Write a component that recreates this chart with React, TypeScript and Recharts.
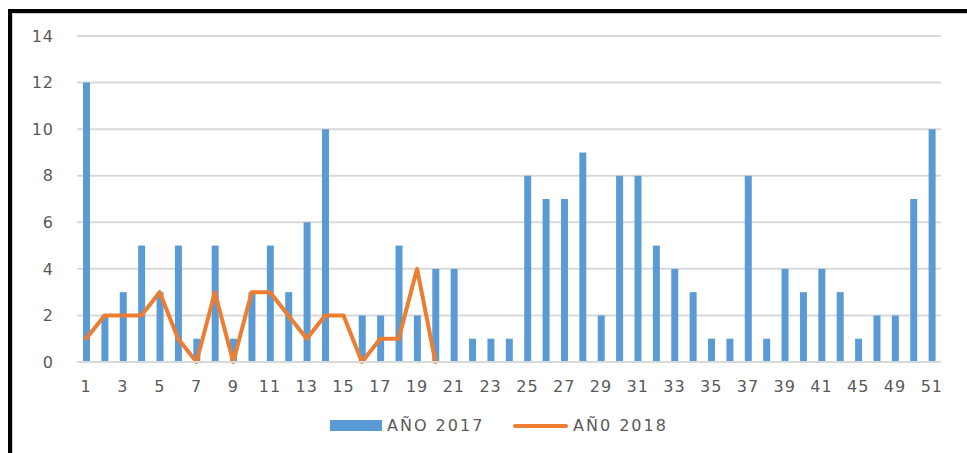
import React from 'react';
import { ComposedChart, Bar, Line, XAxis, YAxis, CartesianGrid, Legend } from 'recharts';

const categories: string[] = [
  '1','2','3','4','5','6','7','8','9','10',
  '11','12','13','14','15','16','17','18','19','20',
  '21','22','23','24','25','26','27','28','29','30',
  '31','32','33','34','35','36','37','38','39','40',
  '41','43','45','47','49','50','51',
];

const values2017: number[] = [
  12, 2, 3, 5, 3, 5, 1, 5, 1, 3,
  5, 3, 6, 10, 0, 2, 2, 5, 2, 4,
  4, 1, 1, 1, 8, 7, 7, 9, 2, 8,
  8, 5, 4, 3, 1, 1, 8, 1, 4, 3,
  4, 3, 1, 2, 2, 7, 10,
];

const values2018: (number | null)[] = [
  1, 2, 2, 2, 3, 1, 0, 3, 0, 3,
  3, 2, 1, 2, 2, 0, 1, 1, 4, 0,
];

const yTicks: number[] = [0, 2, 4, 6, 8, 10, 12, 14];

const seriesNames = { a: 'AÑO 2017', b: 'AÑ0 2018' };

const BLUE = '#5B9BD5';
const ORANGE = '#ED7D31';
const TEXT = '#595959';
const FONT = '"DejaVu Sans", sans-serif';

const data = categories.map((c, i) => ({
  week: c,
  a: values2017[i],
  b: i < values2018.length ? values2018[i] : null,
}));

const LegendContent = () => (
  <div style={{ position: 'relative', height: 20, fontFamily: FONT, fontSize: 16, color: TEXT, letterSpacing: 2 }}>
    <div style={{ position: 'absolute', left: 330, top: 4, width: 52, height: 11, background: BLUE }} />
    <div style={{ position: 'absolute', left: 387, top: 0, lineHeight: '20px', whiteSpace: 'nowrap' }}>{seriesNames.a}</div>
    <div style={{ position: 'absolute', left: 513, top: 8, width: 55, height: 4, borderRadius: 2, background: ORANGE }} />
    <div style={{ position: 'absolute', left: 573, top: 0, lineHeight: '20px', whiteSpace: 'nowrap' }}>{seriesNames.b}</div>
  </div>
);

export default function App() {
  return (
    <div style={{ position: 'absolute', left: 0, top: 0, width: 967, height: 453, background: '#fff', overflow: 'hidden' }}>
      <div style={{ position: 'absolute', left: 8, top: 9, width: 1000, height: 500, borderTop: '4px solid #000', borderLeft: '4px solid #000', boxSizing: 'border-box' }}>
        <div style={{ position: 'absolute', left: 0, top: 0, right: 0, bottom: 0, borderTop: '1px solid #d0d0d0', borderLeft: '1px solid #d0d0d0' }} />
      </div>
      <div style={{ position: 'absolute', left: 0, top: 0 }}>
        <ComposedChart width={967} height={453} data={data} margin={{ top: 36, right: 26, bottom: 41, left: 0 }} barCategoryGap={0}>
          <CartesianGrid vertical={false} stroke="#D9D9D9" strokeWidth={2} />
          <XAxis
            dataKey="week"
            interval={1}
            tickLine={false}
            axisLine={{ stroke: '#D9D9D9', strokeWidth: 2 }}
            tickSize={0}
            tickMargin={19}
            tick={{ fill: TEXT, fontSize: 16, fontFamily: FONT, letterSpacing: 1 }}
          />
          <YAxis
            width={77}
            domain={[0, 14]}
            ticks={yTicks}
            axisLine={false}
            tickLine={false}
            tickSize={0}
            tickMargin={23}
            tick={{ fill: TEXT, fontSize: 16, fontFamily: FONT, letterSpacing: 1 }}
          />
          <Legend content={<LegendContent />} wrapperStyle={{ position: 'absolute', left: 0, top: 416, width: 967 }} />
          <Bar dataKey="a" name={seriesNames.a} fill={BLUE} barSize={7} isAnimationActive={false} />
          <Line
            dataKey="b"
            name={seriesNames.b}
            stroke={ORANGE}
            strokeWidth={4}
            dot={false}
            activeDot={false}
            strokeLinejoin="round"
            strokeLinecap="round"
            connectNulls={false}
            type="linear"
            isAnimationActive={false}
          />
        </ComposedChart>
      </div>
    </div>
  );
}
